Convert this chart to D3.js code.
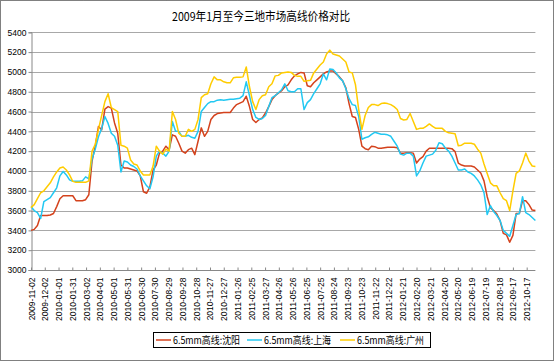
<!DOCTYPE html>
<html>
<head>
<meta charset="utf-8">
<script src="https://cdn.jsdelivr.net/npm/d3@7/dist/d3.min.js"></script>
<style>
  html, body { margin: 0; padding: 0; background: #fff; }
  svg { display: block; }
</style>
</head>
<body>
<svg id="chart" width="554" height="361"></svg>
<script>
// ---------------- data ----------------
const title = "2009年1月至今三地市场高线价格对比";
const seriesNames = ["6.5mm高线:沈阳", "6.5mm高线:上海", "6.5mm高线:广州"];
const seriesColors = ["#d4421c", "#22c8f2", "#ffcc00"];

// weekly observations starting at startDate
const startDate = "2009-11-02";
const stepDays = 7;

const shenyang = [
  3400,3410,3450,3550,3550,3550,3555,3570,3640,3720,
  3750,3750,3750,3750,3700,3700,3700,3710,3760,4100,
  4250,4450,4415,4625,4650,4635,4485,4380,4060,4030,
  4030,4020,4010,4000,3950,3790,3775,3840,4010,4060,
  4180,4200,4250,4215,4365,4350,4280,4200,4180,4215,
  4230,4165,4300,4435,4350,4400,4520,4560,4580,4585,
  4590,4590,4590,4635,4670,4685,4700,4755,4650,4520,
  4490,4520,4535,4585,4650,4720,4760,4785,4810,4850,
  4870,4920,4960,4980,4995,4990,4860,4850,4890,4920,
  4950,4980,5000,5010,5010,4980,4950,4910,4840,4680,
  4550,4540,4420,4250,4225,4215,4250,4245,4230,4230,
  4235,4240,4240,4240,4235,4180,4180,4185,4185,4180,
  4080,4120,4145,4200,4230,4230,4230,4230,4230,4230,
  4230,4225,4195,4080,4060,4050,4050,4050,4040,4010,
  3980,3900,3740,3630,3600,3565,3500,3370,3355,3280,
  3350,3570,3570,3700,3700,3660,3605,3600
];
const shanghai = [
  3640,3600,3580,3520,3690,3710,3730,3780,3830,3950,
  3995,3960,3910,3895,3895,3895,3900,3940,3920,4120,
  4220,4345,4430,4550,4480,4380,4350,4260,3990,4100,
  4090,4060,4045,4020,3950,3900,3850,3820,3940,4150,
  4200,4180,4150,4200,4500,4400,4400,4350,4350,4360,
  4340,4330,4400,4600,4640,4680,4700,4700,4715,4720,
  4715,4720,4725,4725,4730,4735,4760,4900,4760,4620,
  4540,4520,4530,4560,4650,4740,4760,4790,4820,4880,
  4810,4800,4800,4830,4830,4620,4690,4720,4780,4830,
  4880,4980,4920,5030,5025,4990,4940,4910,4830,4730,
  4670,4660,4550,4320,4335,4345,4370,4390,4380,4370,
  4370,4365,4350,4300,4250,4170,4160,4180,4180,4150,
  3950,4000,4080,4150,4160,4170,4210,4285,4275,4230,
  4200,4150,4080,4010,4010,4020,3990,3975,3950,3910,
  3860,3780,3560,3650,3590,3550,3500,3400,3370,3340,
  3450,3560,3570,3740,3580,3560,3530,3500
];
const guangzhou = [
  3630,3660,3720,3780,3800,3840,3880,3940,3990,4030,
  4040,4010,3960,3895,3885,3885,3885,3885,3900,4200,
  4270,4420,4560,4700,4780,4640,4620,4600,4260,4250,
  4230,4110,4070,4060,4000,3960,3960,3960,4050,4250,
  4200,4170,4220,4200,4600,4520,4380,4350,4350,4420,
  4400,4420,4520,4740,4770,4780,4880,4950,4920,4920,
  4900,4890,4890,4940,4945,4945,4950,5050,4850,4700,
  4620,4720,4760,4770,4850,4880,4960,4965,4990,4995,
  5000,4995,4965,4955,4955,4905,4910,4915,4990,5030,
  5070,5100,5180,5220,5180,5170,5160,5130,5100,5000,
  4990,4870,4620,4420,4560,4640,4670,4670,4660,4680,
  4685,4680,4670,4650,4620,4530,4515,4520,4580,4500,
  4420,4430,4430,4450,4475,4450,4430,4430,4430,4400,
  4385,4380,4375,4255,4260,4280,4280,4280,4270,4220,
  4180,4070,3975,3880,3850,3850,3780,3720,3700,3600,
  3800,3975,4000,4080,4180,4100,4050,4045
];

const tickLabels = [
  "2009-11-02","2009-12-02","2010-01-01","2010-01-31","2010-03-02","2010-04-01",
  "2010-05-01","2010-05-31","2010-06-30","2010-07-30","2010-08-29","2010-09-28",
  "2010-10-28","2010-11-27","2010-12-27","2011-01-26","2011-02-25","2011-03-27",
  "2011-04-26","2011-05-26","2011-06-25","2011-07-25","2011-08-24","2011-09-23",
  "2011-10-23","2011-11-22","2011-12-22","2012-01-21","2012-02-20","2012-03-21",
  "2012-04-20","2012-05-20","2012-06-19","2012-07-19","2012-08-18","2012-09-17",
  "2012-10-17"
];
const yTicks = [3000,3200,3400,3600,3800,4000,4200,4400,4600,4800,5000,5200,5400];

// ---------------- chart ----------------
const parse = d3.utcParse("%Y-%m-%d");
const start = parse(startDate);
const dates = shenyang.map((_, i) => d3.utcDay.offset(start, i * stepDays));
const seriesValues = [shenyang, shanghai, guangzhou];

const svg = d3.select("#chart");
const W = 554, H = 361;
const plot = { left: 31, right: 535.4, top: 32.3, bottom: 270 };

// outer dotted frame
svg.append("rect")
  .attr("x", 0.5).attr("y", 0.5).attr("width", W - 1).attr("height", H - 1)
  .attr("fill", "#fff").attr("stroke", "#000").attr("stroke-width", 1)
  .attr("stroke-dasharray", "1,1");

const x = d3.scaleUtc()
  .domain([start, dates[dates.length - 1]])
  .range([plot.left, plot.right]);
const y = d3.scaleLinear()
  .domain([3000, 5400])
  .range([plot.bottom, plot.top]);

// title
svg.append("text")
  .attr("x", 261).attr("y", 20.5)
  .attr("text-anchor", "middle")
  .attr("font-family", "'Noto Sans CJK SC', sans-serif")
  .attr("font-size", 12)
  .attr("textLength", 178).attr("lengthAdjust", "spacingAndGlyphs")
  .attr("fill", "#000")
  .text(title);

// gridlines
svg.append("g")
  .selectAll("line")
  .data(yTicks.filter(v => v > 3000))
  .join("line")
  .attr("x1", plot.left).attr("x2", plot.right)
  .attr("y1", d => Math.round(y(d)) + 0.5).attr("y2", d => Math.round(y(d)) + 0.5)
  .attr("stroke", "#a8a8a8").attr("stroke-width", 1);

// y axis
const yAxis = d3.axisLeft(y).tickValues(yTicks).tickSize(3).tickPadding(2).tickFormat(d3.format("d"));
const gy = svg.append("g")
  .attr("transform", `translate(${plot.left + 0.5},0)`)
  .call(yAxis);
gy.select(".domain").attr("stroke", "#888");
gy.selectAll(".tick line").attr("stroke", "#888");
gy.selectAll(".tick text")
  .attr("font-family", "'Liberation Sans', Arial, sans-serif")
  .attr("font-size", 8.5).attr("fill", "#000");

// x axis
const tickDates = tickLabels.map(parse);
const xAxis = d3.axisBottom(x).tickValues(tickDates).tickSize(-3).tickPadding(0)
  .tickFormat(d3.utcFormat("%Y-%m-%d"));
const gx = svg.append("g")
  .attr("transform", `translate(0,${Math.round(plot.bottom) + 0.5})`)
  .call(xAxis);
gx.select(".domain").attr("stroke", "#888").attr("d", `M${plot.left},0H${plot.right}`);
gx.selectAll(".tick line").attr("stroke", "#888");
gx.selectAll(".tick text")
  .attr("font-family", "'Liberation Sans', Arial, sans-serif")
  .attr("font-size", 8.5).attr("fill", "#000")
  .attr("text-anchor", "end")
  .attr("transform", "translate(3,7) rotate(-90)")
  .attr("dy", "0")
  .attr("y", 0).attr("x", 0);

// lines
const line = d3.line()
  .x((d, i) => x(dates[i]))
  .y(d => y(d));
svg.append("g")
  .selectAll("path")
  .data(seriesValues)
  .join("path")
  .attr("d", d => line(d))
  .attr("fill", "none")
  .attr("stroke", (d, i) => seriesColors[i])
  .attr("stroke-width", 1.5)
  .attr("stroke-linejoin", "round");

// legend
const lg = svg.append("g");
lg.append("rect")
  .attr("x", 153.5).attr("y", 332.5).attr("width", 277).attr("height", 15)
  .attr("fill", "#fff").attr("stroke", "#000").attr("stroke-width", 1);
const legendX = [156, 247, 340];
seriesNames.forEach((name, i) => {
  lg.append("line")
    .attr("x1", legendX[i]).attr("x2", legendX[i] + 15)
    .attr("y1", 340).attr("y2", 340)
    .attr("stroke", seriesColors[i]).attr("stroke-width", 1.5);
  lg.append("text")
    .attr("x", legendX[i] + 17).attr("y", 344)
    .attr("font-family", "'Noto Sans CJK SC', sans-serif")
    .attr("font-size", 10)
    .attr("textLength", 67).attr("lengthAdjust", "spacingAndGlyphs")
    .attr("fill", "#000")
    .text(name);
});
</script>
</body>
</html>
